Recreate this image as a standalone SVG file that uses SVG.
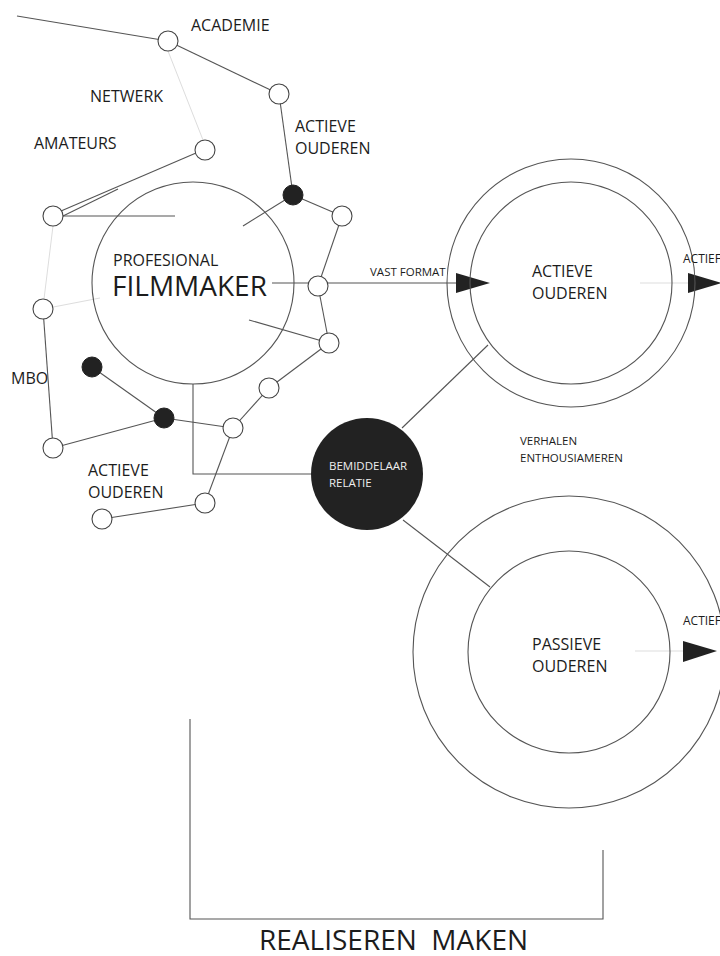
<svg xmlns="http://www.w3.org/2000/svg" width="720" height="956" viewBox="0 0 720 956">
<style>
.ln{stroke:#555;stroke-width:1.1;fill:none}
.fa{stroke:#ddd;stroke-width:1;fill:none}
.big{fill:none;stroke:#555;stroke-width:1.1}
.nd{fill:#fff;stroke:#444;stroke-width:1.1}
.nf{fill:#222;stroke:#222;stroke-width:1}
.t{font-family:"Open Sans","Liberation Sans",sans-serif;fill:#1c1c1c}
.w{fill:#eee}
.arr{fill:#222}
</style>
<rect width="720" height="956" fill="#fff"/>
<g id="connectors">
<line class="ln" x1="17" y1="16" x2="168" y2="41"/>
<line class="ln" x1="168" y1="41" x2="279" y2="94"/>
<line class="fa" x1="168" y1="51" x2="203" y2="140"/>
<line class="ln" x1="279" y1="94" x2="293" y2="195"/>
<line class="ln" x1="293" y1="195" x2="243" y2="226"/>
<line class="ln" x1="293" y1="195" x2="342" y2="216"/>
<line class="ln" x1="342" y1="216" x2="318" y2="286"/>
<line class="ln" x1="318" y1="286" x2="329" y2="343"/>
<line class="ln" x1="249" y1="320" x2="329" y2="343"/>
<line class="ln" x1="272" y1="283" x2="456" y2="283"/>
<line class="ln" x1="61" y1="211" x2="196" y2="153"/>
<line class="ln" x1="63" y1="216" x2="118" y2="189"/>
<line class="ln" x1="53" y1="216" x2="175" y2="216"/>
<line class="fa" x1="53" y1="226" x2="44" y2="299"/>
<line class="fa" x1="43" y1="309" x2="100" y2="298"/>
<line class="ln" x1="43" y1="309" x2="53" y2="448"/>
<line class="ln" x1="53" y1="448" x2="164" y2="418"/>
<line class="ln" x1="92" y1="367" x2="164" y2="418"/>
<line class="ln" x1="164" y1="418" x2="233" y2="428"/>
<line class="ln" x1="233" y1="428" x2="269" y2="388"/>
<line class="ln" x1="269" y1="388" x2="329" y2="343"/>
<line class="ln" x1="233" y1="428" x2="205" y2="503"/>
<line class="ln" x1="205" y1="503" x2="102" y2="519"/>
<polyline class="ln" points="193,384 193,474 311,474"/>
<line class="ln" x1="402" y1="428" x2="488" y2="345"/>
<line class="ln" x1="403" y1="520" x2="490" y2="587"/>
<line class="fa" x1="640" y1="283" x2="688" y2="283"/>
<line class="fa" x1="635" y1="651" x2="683" y2="651"/>
<polyline class="ln" points="190,719 190,919 603,919 603,850"/>
<polygon class="arr" points="456,273 456,293 490,283"/>
<polygon class="arr" points="688,273 688,293 722,283"/>
<polygon class="arr" points="683,641 683,662 717,651"/>
</g>
<g id="filmmaker">
<circle class="big" cx="193" cy="283" r="101"/>
<text class="t" x="113" y="266" font-size="16">PROFESIONAL</text>
<text class="t" x="112" y="296" font-size="28">FILMMAKER</text>
</g>
<g id="actieve-ouderen-circle">
<circle class="big" cx="571" cy="283" r="124"/>
<circle class="big" cx="571" cy="283" r="101"/>
<text class="t" x="532" y="277" font-size="16">ACTIEVE</text>
<text class="t" x="532" y="299" font-size="16">OUDEREN</text>
</g>
<g id="passieve-ouderen-circle">
<circle class="big" cx="569" cy="652" r="156"/>
<circle class="big" cx="569" cy="652" r="101"/>
<text class="t" x="532" y="650" font-size="16">PASSIEVE</text>
<text class="t" x="532" y="672" font-size="16">OUDEREN</text>
</g>
<g id="bemiddelaar">
<circle cx="367" cy="474" r="56" fill="#222"/>
<text class="t w" x="329" y="470" font-size="11.5">BEMIDDELAAR</text>
<text class="t w" x="329" y="487" font-size="11.5">RELATIE</text>
</g>
<g id="nodes">
<circle id="n-academie" class="nd" cx="168" cy="41" r="10"/>
<circle id="n2" class="nd" cx="279" cy="94" r="10"/>
<circle id="n-amateurs" class="nd" cx="205" cy="150" r="10"/>
<circle id="n3" class="nf" cx="293" cy="195" r="10"/>
<circle id="n4" class="nd" cx="342" cy="216" r="10"/>
<circle id="n5" class="nd" cx="53" cy="216" r="10"/>
<circle id="n6" class="nd" cx="318" cy="286" r="10"/>
<circle id="n7" class="nd" cx="43" cy="309" r="10"/>
<circle id="n8" class="nd" cx="329" cy="343" r="10"/>
<circle id="n9" class="nf" cx="92" cy="367" r="10"/>
<circle id="n10" class="nd" cx="269" cy="388" r="10"/>
<circle id="n11" class="nf" cx="164" cy="418" r="10"/>
<circle id="n12" class="nd" cx="233" cy="428" r="10"/>
<circle id="n13" class="nd" cx="53" cy="448" r="10"/>
<circle id="n14" class="nd" cx="205" cy="503" r="10"/>
<circle id="n15" class="nd" cx="102" cy="519" r="10"/>
</g>
<g id="labels">
<text class="t" x="191" y="31" font-size="16">ACADEMIE</text>
<text class="t" x="90" y="102" font-size="16">NETWERK</text>
<text class="t" x="34" y="149" font-size="16">AMATEURS</text>
<text class="t" x="295" y="132" font-size="16">ACTIEVE</text>
<text class="t" x="295" y="154" font-size="16">OUDEREN</text>
<text class="t" x="11" y="384" font-size="16">MBO</text>
<text class="t" x="88" y="476" font-size="16">ACTIEVE</text>
<text class="t" x="88" y="498" font-size="16">OUDEREN</text>
<text class="t" x="370" y="276" font-size="11.5">VAST FORMAT</text>
<text class="t" x="683" y="263" font-size="12">ACTIEF</text>
<text class="t" x="683" y="625" font-size="12">ACTIEF</text>
<text class="t" x="520" y="445" font-size="11.5">VERHALEN</text>
<text class="t" x="520" y="462" font-size="11.5">ENTHOUSIAMEREN</text>
<text class="t" x="259" y="950" font-size="28" xml:space="preserve">REALISEREN  MAKEN</text>
</g>
</svg>
